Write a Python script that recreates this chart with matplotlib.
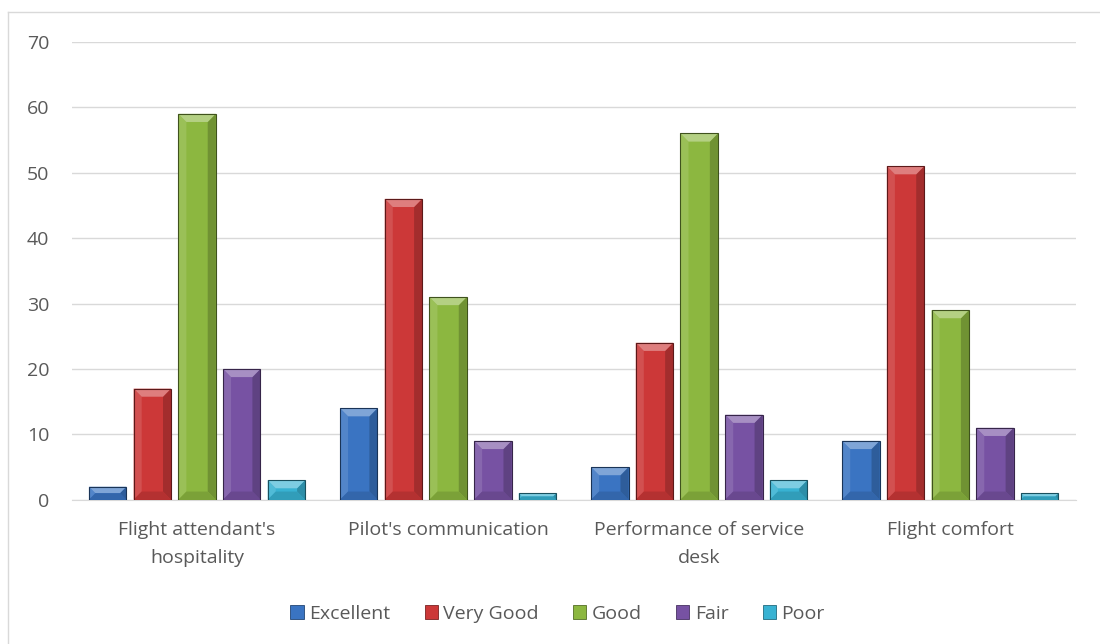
import matplotlib.pyplot as plt
import numpy as np
from matplotlib.patches import Rectangle, Polygon
from matplotlib.lines import Line2D

categories = ["Flight attendant's\nhospitality", "Pilot's communication",
              "Performance of service\ndesk", "Flight comfort"]
series = ["Excellent", "Very Good", "Good", "Fair", "Poor"]
excellent = [2, 14, 5, 9]
very_good = [17, 46, 24, 51]
good = [59, 31, 56, 29]
fair = [20, 9, 13, 11]
poor = [3, 1, 3, 1]
values = [excellent, very_good, good, fair, poor]

colors = ["#3A74C2", "#CC3838", "#8CB740", "#7752A3", "#38B2D2"]


def shade(c, f):
    c = np.array(plt.matplotlib.colors.to_rgb(c))
    if f > 0:
        c = c + (1 - c) * f
    else:
        c = c * (1 + f)
    return tuple(np.clip(c, 0, 1))


plt.rcParams['font.family'] = ['Open Sans', 'DejaVu Sans']
fig = plt.figure(figsize=(11, 6.44), dpi=100)
ax = fig.add_axes([0.065, 0.224, 0.913, 0.711])

x = np.arange(len(categories))
pitch = 0.178
width = 0.149
bx = 0.032   # bevel width (data x)
by = 1.25    # bevel height (data y)

for i, (name, vals) in enumerate(zip(series, values)):
    col = colors[i]
    pos = x + (i - 2) * pitch
    for xc, v in zip(pos, vals):
        x0, x1 = xc - width / 2, xc + width / 2
        h = min(by, v / 2)
        w = bx * h / by
        ax.add_patch(Rectangle((x0, 0), width, v, facecolor=col, edgecolor='none', zorder=3))
        ax.add_patch(Polygon([(x0, 0), (x0 + w, h), (x0 + w, v - h), (x0, v)],
                             facecolor=shade(col, 0.12), edgecolor='none', zorder=3))
        ax.add_patch(Polygon([(x1, 0), (x1 - w, h), (x1 - w, v - h), (x1, v)],
                             facecolor=shade(col, -0.2), edgecolor='none', zorder=3))
        ax.add_patch(Polygon([(x0, v), (x0 + w, v - h), (x1 - w, v - h), (x1, v)],
                             facecolor=shade(col, 0.35), edgecolor='none', zorder=3))
        ax.add_patch(Polygon([(x0, 0), (x0 + w, h), (x1 - w, h), (x1, 0)],
                             facecolor=shade(col, -0.12), edgecolor='none', zorder=3))
        ax.add_patch(Rectangle((x0, 0), width, v, facecolor='none',
                               edgecolor=shade(col, -0.55), linewidth=0.8, zorder=4))
    ax.bar([0], [0], color=col, label=name, edgecolor=shade(col, -0.4), linewidth=0.6)

ax.set_xlim(-0.5, len(categories) - 0.5)
ax.set_ylim(0, 70)
ax.set_yticks(range(0, 71, 10))
ax.set_xticks(x)
ax.set_xticklabels(categories, fontsize=14, color='#595959', linespacing=1.75)
ax.tick_params(axis='y', labelsize=14, colors='#595959', length=0, pad=16)
ax.tick_params(axis='x', length=0, pad=15)
ax.grid(axis='y', color='#D9D9D9', linewidth=1)
ax.set_axisbelow(True)
for s in ['top', 'right', 'left']:
    ax.spines[s].set_visible(False)
ax.spines['bottom'].set_color('#D9D9D9')

fig.legend(loc='center', bbox_to_anchor=(0.507, 0.047), ncol=5, frameon=False,
           fontsize=14, handlelength=0.67, handleheight=0.67, handletextpad=0.3,
           columnspacing=1.75, labelcolor='#595959')

# chart-area border (only left and top visible in the crop)
fig.add_artist(Line2D([8 / 1100, 8 / 1100], [0, 1 - 12 / 644], transform=fig.transFigure,
                      color='#D9D9D9', linewidth=1))
fig.add_artist(Line2D([8 / 1100, 1], [1 - 12 / 644, 1 - 12 / 644], transform=fig.transFigure,
                      color='#D9D9D9', linewidth=1))

fig.savefig('out.png', dpi=100)
